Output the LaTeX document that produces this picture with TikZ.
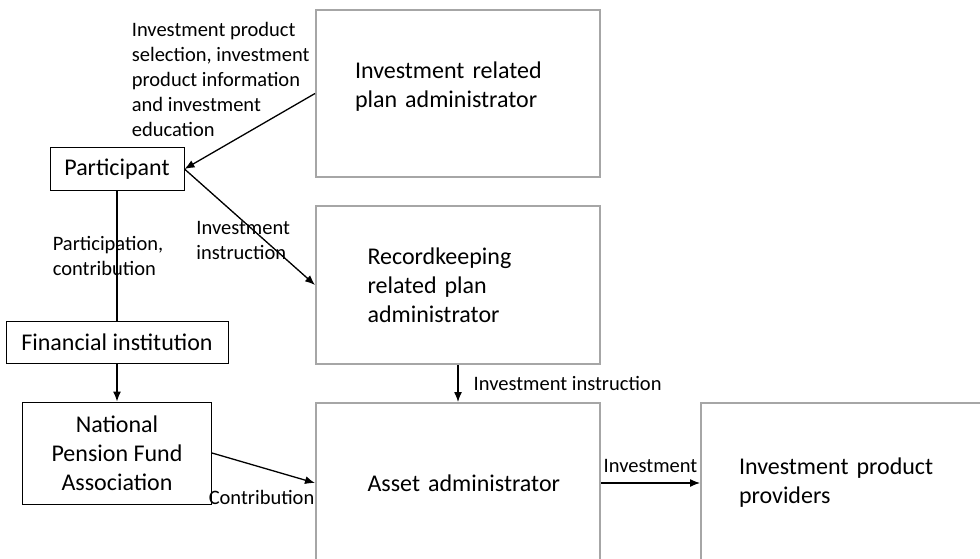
\documentclass[tikz,border=0pt]{standalone}
\usepackage{fontspec}
\setmainfont{Carlito}
\usetikzlibrary{
    arrows.meta,
    positioning
}
\definecolor{rolegray}{HTML}{A6A6A6}
\definecolor{inkblack}{HTML}{000000}

\newcommand{\boxsize}{\fontsize{24}{29}\selectfont}
\newcommand{\notesize}{\fontsize{20.5}{25}\selectfont}

\begin{document}
\begin{tikzpicture}[
    x=1pt,
    y=-1pt,
    every node/.style={text=inkblack},
    party/.style={
        rectangle,
        minimum width=#1,
        minimum height=42pt,
        align=center,
        font=\boxsize,
        line width=1pt,
        draw=inkblack
    },
    role/.style={
        rectangle,
        minimum width=284pt,
        minimum height=#1,
        align=left,
        font=\boxsize,
        line width=2pt,
        draw=rolegray
    },
    flow/.style={
        -{Latex[length=10pt,width=8pt]},
        line width=1.3pt,
        draw=inkblack
    },
    note/.style={
        font=\notesize,
        align=left,
        inner sep=0pt
    }
]

\useasboundingbox (0,0) rectangle (980,559);
\clip (0,0) rectangle (980,559);

% =====================================================
% Plan administrators and providers
% =====================================================

\node[role=167pt, text width=206pt, text depth=46pt] (irpa) at (458,93.5)
{Investment related\\plan administrator};

\node[role=158pt, text width=181pt, below=27pt of irpa] (rpa)
{Recordkeeping\\related plan\\administrator};

\node[role=160pt, text width=181pt, below=37pt of rpa] (asset)
{\mbox{Asset administrator}};

\node[role=160pt, text width=208pt, right=99pt of asset] (ipp)
{Investment product\\providers};

% =====================================================
% Left column
% =====================================================

\node[party=134pt] (participant) at (117,169)
{Participant};

\node[party=222pt, below=130pt of participant] (fininst)
{Financial institution};

\node[party=189pt, minimum height=102pt, below=38pt of fininst] (npfa)
{National\\Pension Fund\\Association};

% =====================================================
% Arrows
% =====================================================

\draw[flow] (irpa.west) -- node[note, pos=0.7, above=9pt, xshift=-3pt]
{Investment product\\selection, investment\\product information\\and investment\\education} (participant.east);

\draw[flow] (participant.east) -- node[note, pos=0.45, yshift=-19pt]
{Investment\\instruction} (rpa.west);

\draw[line width=1.3pt] (participant) -- node[note, xshift=-9pt]
{Participation,\\contribution} (fininst);

\draw[flow] (fininst) -- (npfa);

\draw[flow] (npfa.east) -- node[note, at end, below left=7pt and 0pt]
{Contribution} (asset.west);

\draw[flow] (rpa) -- node[note, right=15pt] {Investment instruction} (asset);

\draw[flow] (asset) -- node[note, above=10pt] {Investment} (ipp);

\end{tikzpicture}
\end{document}
